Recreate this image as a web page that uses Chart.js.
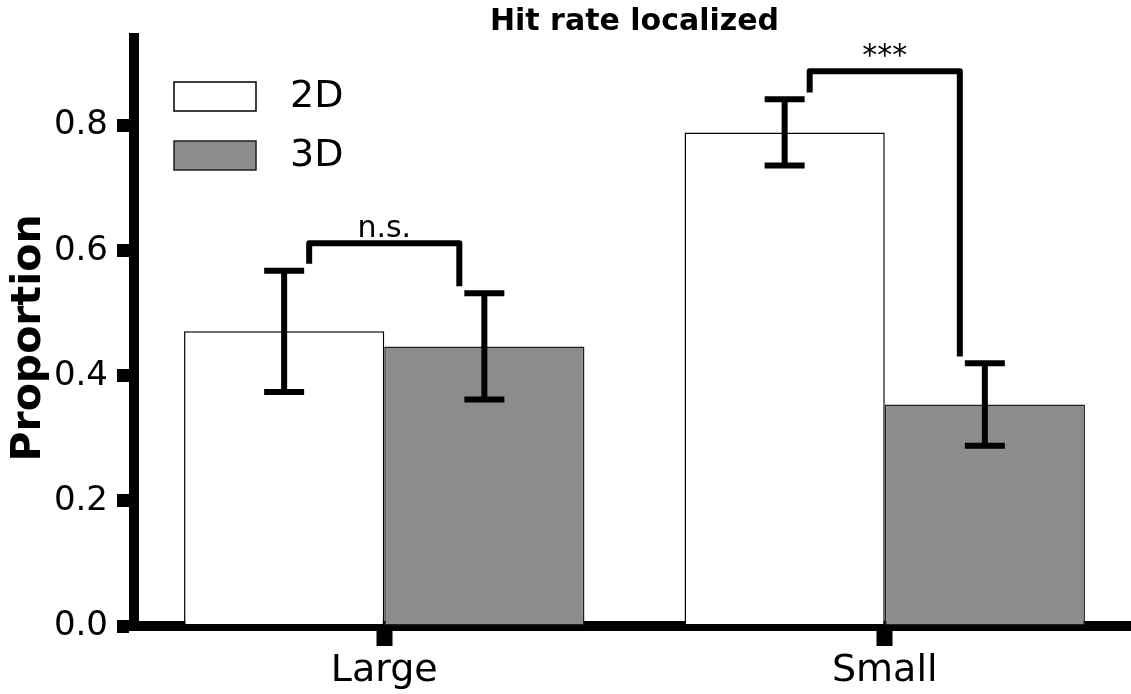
<!DOCTYPE html>
<html>
<head>
<meta charset="utf-8">
<script src="https://cdn.jsdelivr.net/npm/chart.js@4.4.0/dist/chart.umd.min.js"></script>
<style>
  html, body { margin: 0; padding: 0; background: #ffffff; }
  #wrap { width: 1131px; height: 694px; }
</style>
</head>
<body>
<div id="wrap"><canvas id="chart" width="1131" height="694"></canvas></div>
<script>
// Hit rate (proportion) per stimulus size, 2D vs 3D
const categories = ['Large', 'Small'];
const seriesNames = ['2D', '3D'];
const values2D = [0.471, 0.789];
const values3D = [0.447, 0.354];
const err2D = [0.097, 0.053];
const err3D = [0.085, 0.066];
const yTickValues = [0, 0.2, 0.4, 0.6, 0.8];
const sigLabels = ['n.s.', '***'];
const sigHeights = [0.612, 0.887];
const sigLegGap = 0.011;
const chartTitle = 'Hit rate localized';
const yAxisTitle = 'Proportion';

const FONT = '"DejaVu Sans", "Liberation Sans", sans-serif';
const fills = ['#ffffff', '#8c8c8c'];
const edges = ['#000000', '#1e1e1e'];
const errs = [err2D, err3D];

// The x range runs slightly past the right edge of the canvas
const overhangPlugin = {
  id: 'rightOverhang',
  afterLayout(chart) {
    const extra = 4;
    const x = chart.scales.x;
    x.right += extra;
    x.width = x.right - x.left;
    x.configure();
    chart.chartArea.right += extra;
    chart.chartArea.width = chart.chartArea.right - chart.chartArea.left;
  }
};

// Figure title and y-axis title, both centred on the plotting area
const titlesPlugin = {
  id: 'areaTitles',
  afterDraw(chart) {
    const ctx = chart.ctx;
    const a = chart.chartArea;
    ctx.save();
    ctx.fillStyle = '#000';
    ctx.font = 'bold 30px ' + FONT;
    ctx.textAlign = 'center';
    ctx.textBaseline = 'alphabetic';
    ctx.fillText(chartTitle, (a.left + a.right) / 2, 30);

    ctx.translate(29.5, (a.top + a.bottom) / 2 + 6);
    ctx.rotate(-Math.PI / 2);
    ctx.font = 'bold 41px ' + FONT;
    ctx.textBaseline = 'middle';
    ctx.fillText(yAxisTitle, 0, 0);
    ctx.restore();
  }
};

const errorBarPlugin = {
  id: 'errorBars',
  afterDatasetsDraw(chart) {
    const ctx = chart.ctx;
    const y = chart.scales.y;
    ctx.save();
    ctx.strokeStyle = '#000';
    ctx.lineWidth = 6;
    ctx.lineCap = 'butt';
    chart.data.datasets.forEach((ds, di) => {
      const meta = chart.getDatasetMeta(di);
      meta.data.forEach((bar, j) => {
        const v = ds.data[j];
        const yt = y.getPixelForValue(v + errs[di][j]);
        const yb = y.getPixelForValue(v - errs[di][j]);
        ctx.beginPath();
        ctx.moveTo(bar.x, yt);
        ctx.lineTo(bar.x, yb);
        ctx.moveTo(bar.x - 20, yt);
        ctx.lineTo(bar.x + 20, yt);
        ctx.moveTo(bar.x - 20, yb);
        ctx.lineTo(bar.x + 20, yb);
        ctx.stroke();
      });
    });
    ctx.restore();
  }
};

const significancePlugin = {
  id: 'significance',
  afterDatasetsDraw(chart) {
    const ctx = chart.ctx;
    const x = chart.scales.x, y = chart.scales.y;
    const catW = x.getPixelForValue(1) - x.getPixelForValue(0);
    ctx.save();
    ctx.strokeStyle = '#000';
    ctx.fillStyle = '#000';
    ctx.lineWidth = 6;
    ctx.lineJoin = 'round';
    ctx.lineCap = 'butt';
    categories.forEach((c, i) => {
      const cx = x.getPixelForValue(i);
      const xl = cx - 0.15 * catW, xr = cx + 0.15 * catW;
      const yl = y.getPixelForValue(values2D[i] + err2D[i] + sigLegGap);
      const yr = y.getPixelForValue(values3D[i] + err3D[i] + sigLegGap);
      const yt = y.getPixelForValue(sigHeights[i]);
      ctx.beginPath();
      ctx.moveTo(xl, yl);
      ctx.lineTo(xl, yt);
      ctx.lineTo(xr, yt);
      ctx.lineTo(xr, yr);
      ctx.stroke();
      ctx.font = '30px ' + FONT;
      ctx.textAlign = 'center';
      ctx.textBaseline = 'alphabetic';
      ctx.fillText(sigLabels[i], cx, yt - 6);
    });
    ctx.restore();
  }
};

const legendPlugin = {
  id: 'boxLegend',
  afterDraw(chart) {
    const ctx = chart.ctx;
    const a = chart.chartArea;
    ctx.save();
    chart.data.datasets.forEach((ds, i) => {
      const bx = a.left + 40, by = a.top + 44 + i * 59;
      ctx.fillStyle = ds.backgroundColor;
      ctx.fillRect(bx, by, 82, 29);
      ctx.strokeStyle = ds.borderColor;
      ctx.lineWidth = 1.5;
      ctx.strokeRect(bx, by, 82, 29);
      ctx.fillStyle = '#000';
      ctx.font = '38px ' + FONT;
      ctx.textAlign = 'left';
      ctx.textBaseline = 'middle';
      ctx.fillText(ds.label, bx + 116, by + 15);
    });
    ctx.restore();
  }
};

new Chart(document.getElementById('chart'), {
  type: 'bar',
  data: {
    labels: categories,
    datasets: [
      { label: seriesNames[0], data: values2D, backgroundColor: fills[0], borderColor: edges[0],
        borderWidth: 1.5, borderSkipped: false, categoryPercentage: 0.8, barPercentage: 1.0 },
      { label: seriesNames[1], data: values3D, backgroundColor: fills[1], borderColor: edges[1],
        borderWidth: 1.5, borderSkipped: false, categoryPercentage: 0.8, barPercentage: 1.0 }
    ]
  },
  options: {
    responsive: false,
    animation: false,
    devicePixelRatio: 1,
    layout: { padding: { left: 0, right: 0, top: 38, bottom: 0 } },
    plugins: {
      legend: { display: false },
      tooltip: { enabled: false },
      title: { display: false }
    },
    scales: {
      x: {
        z: 1,
        offset: true,
        grid: { display: true, drawOnChartArea: false, drawTicks: true, offset: false,
                tickLength: 20, tickWidth: 16, tickColor: '#000' },
        border: { display: true, width: 10, color: '#000' },
        ticks: { color: '#000', padding: 2, font: { family: FONT, size: 38 } },
        afterFit(scale) { scale.height = 68; }
      },
      y: {
        z: 1,
        min: 0,
        max: 0.94,
        afterBuildTicks(scale) { scale.ticks = yTickValues.map(v => ({ value: v })); },
        grid: { display: true, drawOnChartArea: false, drawTicks: true,
                tickLength: 17, tickWidth: 13, tickColor: '#000' },
        border: { display: true, width: 10, color: '#000' },
        ticks: { color: '#000', padding: 9, font: { family: FONT, size: 34 },
                 callback: (v) => Number(v).toFixed(1) },
        afterFit(scale) { scale.width = 134; }
      }
    }
  },
  plugins: [overhangPlugin, errorBarPlugin, significancePlugin, legendPlugin, titlesPlugin]
});
</script>
</body>
</html>
